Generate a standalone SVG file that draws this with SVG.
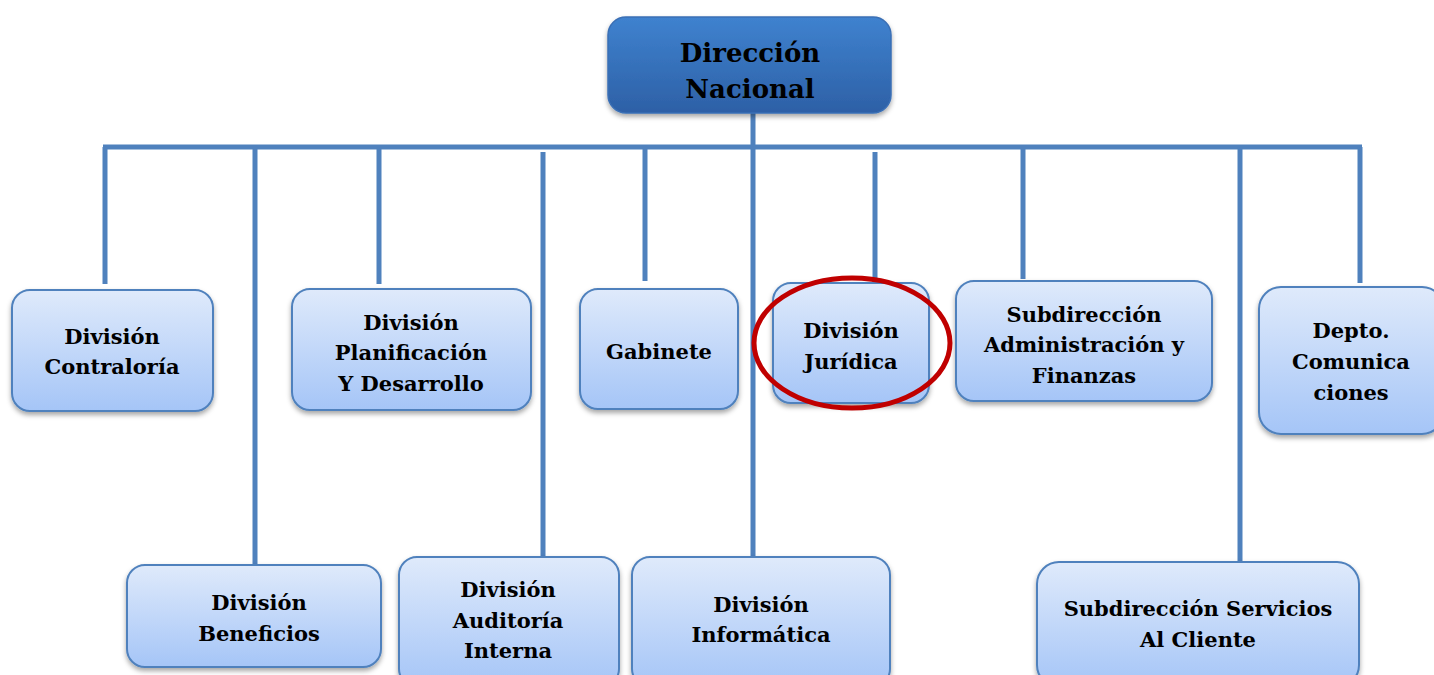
<svg xmlns="http://www.w3.org/2000/svg" width="1434" height="675" viewBox="0 0 1434 675">
<style>
.box{fill:url(#lg);stroke:#4f81bd;stroke-width:2;filter:url(#sh)}
.top{fill:url(#tg);stroke:#3a6fb5;stroke-width:1.5;filter:url(#sh)}
.t{font-family:"DejaVu Serif","Liberation Serif",serif;font-weight:bold;font-size:21px;text-anchor:middle;fill:#000}
.tt{font-family:"DejaVu Serif","Liberation Serif",serif;font-weight:bold;font-size:26px;text-anchor:middle;fill:#000}
.c{stroke:#4f81bd;stroke-width:5;fill:none}
</style>
<defs>
<linearGradient id="lg" x1="0" y1="0" x2="0" y2="1"><stop offset="0" stop-color="#dfeafb"/><stop offset="1" stop-color="#a5c5f7"/></linearGradient>
<linearGradient id="tg" x1="0" y1="0" x2="0" y2="1"><stop offset="0" stop-color="#3f82cf"/><stop offset="1" stop-color="#2d60a6"/></linearGradient>
<filter id="sh" x="-10%" y="-10%" width="120%" height="130%"><feDropShadow dx="0" dy="3" stdDeviation="2.5" flood-color="#000" flood-opacity="0.35"/></filter>
</defs>
<rect width="1434" height="675" fill="#fff"/>
<g id="connectors">
<line class="c" x1="753" y1="113" x2="753" y2="557"/>
<line class="c" x1="103" y1="147" x2="1362" y2="147"/>
<line class="c" x1="105" y1="147" x2="105" y2="284"/>
<line class="c" x1="255" y1="147" x2="255" y2="565"/>
<line class="c" x1="379" y1="147" x2="379" y2="284"/>
<line class="c" x1="543" y1="152" x2="543" y2="557"/>
<line class="c" x1="645" y1="147" x2="645" y2="281"/>
<line class="c" x1="875" y1="152" x2="875" y2="288"/>
<line class="c" x1="1023" y1="147" x2="1023" y2="279"/>
<line class="c" x1="1240" y1="147" x2="1240" y2="562"/>
<line class="c" x1="1360" y1="147" x2="1360" y2="283"/>
</g>
<g id="n-direccion"><rect class="top" x="608" y="17" width="283" height="96" rx="18"/><text class="tt" x="750" y="62">Dirección</text><text class="tt" x="750" y="98">Nacional</text></g>
<g id="n-contraloria"><rect class="box" x="12" y="290" width="201" height="121" rx="18"/><text class="t" x="112" y="344">División</text><text class="t" x="112" y="374">Contraloría</text></g>
<g id="n-planificacion"><rect class="box" x="292" y="289" width="239" height="121" rx="18"/><text class="t" x="411" y="330">División</text><text class="t" x="411" y="360">Planificación</text><text class="t" x="411" y="391">Y Desarrollo</text></g>
<g id="n-gabinete"><rect class="box" x="580" y="289" width="158" height="120" rx="18"/><text class="t" x="659" y="359">Gabinete</text></g>
<g id="n-juridica"><rect class="box" x="773" y="283" width="156" height="120" rx="18"/><text class="t" x="851" y="338">División</text><text class="t" x="851" y="369">Jurídica</text></g>
<g id="n-subadm"><rect class="box" x="956" y="281" width="256" height="120" rx="18"/><text class="t" x="1084" y="322">Subdirección</text><text class="t" x="1084" y="352">Administración y</text><text class="t" x="1084" y="383">Finanzas</text></g>
<g id="n-depto"><rect class="box" x="1259" y="287" width="185" height="147" rx="22"/><text class="t" x="1351" y="338">Depto.</text><text class="t" x="1351" y="369">Comunica</text><text class="t" x="1351" y="400">ciones</text></g>
<g id="n-beneficios"><rect class="box" x="127" y="565" width="254" height="102" rx="18"/><text class="t" x="259" y="610">División</text><text class="t" x="259" y="641">Beneficios</text></g>
<g id="n-auditoria"><rect class="box" x="399" y="557" width="220" height="130" rx="18"/><text class="t" x="508" y="597">División</text><text class="t" x="508" y="628">Auditoría</text><text class="t" x="508" y="658">Interna</text></g>
<g id="n-informatica"><rect class="box" x="632" y="557" width="258" height="130" rx="18"/><text class="t" x="761" y="612">División</text><text class="t" x="761" y="642">Informática</text></g>
<g id="n-servicios"><rect class="box" x="1037" y="562" width="322" height="125" rx="22"/><text class="t" x="1198" y="616">Subdirección Servicios</text><text class="t" x="1198" y="647">Al Cliente</text></g>
<ellipse cx="852" cy="343" rx="98" ry="65" fill="none" stroke="#c00000" stroke-width="5"/>
</svg>
